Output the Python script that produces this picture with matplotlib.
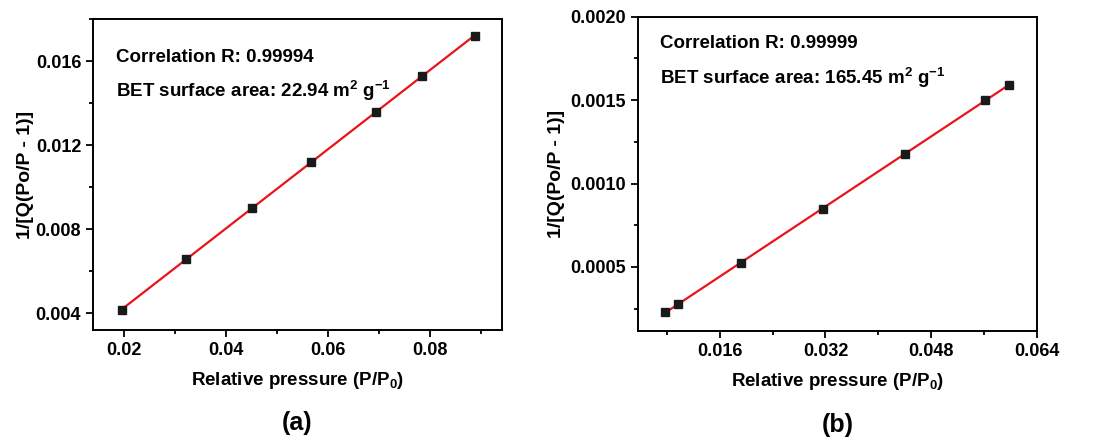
import numpy as np
import matplotlib
matplotlib.use("Agg")
import matplotlib.pyplot as plt
from matplotlib.ticker import MultipleLocator, FixedLocator

plt.rcParams['font.family'] = ['Liberation Sans', 'DejaVu Sans']
plt.rcParams['font.weight'] = 'bold'
plt.rcParams['mathtext.fontset'] = 'custom'
plt.rcParams['mathtext.rm'] = 'Liberation Sans:bold'
plt.rcParams['mathtext.bf'] = 'Liberation Sans:bold'
plt.rcParams['mathtext.default'] = 'bf'

# panel (a) data
xa = [0.0196, 0.0322, 0.0450, 0.0567, 0.0694, 0.0784, 0.0888]
ya = [0.00415, 0.00657, 0.00900, 0.01120, 0.01359, 0.01529, 0.01718]
# panel (b) data
xb = [0.0078, 0.0097, 0.0193, 0.0316, 0.0441, 0.0561, 0.0598]
yb = [0.000228, 0.000278, 0.000526, 0.000850, 0.001180, 0.001500, 0.001590]

r_values = ["0.99994", "0.99999"]
bet_values = ["22.94", "165.45"]
panel_labels = ["(a)", "(b)"]

fig = plt.figure(figsize=(10.96, 4.43), dpi=100)
ax_a = fig.add_axes([0.0849, 0.255, 0.373, 0.702])
ax_b = fig.add_axes([0.5818, 0.2535, 0.3644, 0.7088])


def draw(ax, x, y, r, bet, label, text_y, ypad):
    x = np.array(x)
    y = np.array(y)
    k, b = np.polyfit(x, y, 1)
    xx = np.array([x.min(), x.max()])
    ax.plot(xx, k * xx + b, color='#e8141a', lw=1.6, zorder=2)
    ax.plot(x, y, 's', color='#1a1a1a', ms=5.5, zorder=3)
    for s in ax.spines.values():
        s.set_linewidth(1.4)
    ax.tick_params(which='both', direction='out', top=False, right=False,
                   labelsize=13, width=1.3)
    ax.tick_params(which='major', length=5)
    ax.tick_params(which='minor', length=3)
    ax.set_xlabel(r'Relative pressure (P/P$_{0}$)', fontsize=13.5, fontweight='bold', labelpad=8)
    ax.set_ylabel('1/[Q(Po/P - 1)]', fontsize=14, fontweight='bold', labelpad=ypad)
    ax.text(0.057, text_y[0], 'Correlation R: ' + r, transform=ax.transAxes,
            fontsize=13.5, fontweight='bold', va='center')
    ax.text(0.057, text_y[1], 'BET surface area: ' + bet + r' m$^{2}$ g$^{-1}$',
            transform=ax.transAxes, fontsize=13.5, fontweight='bold', va='center')
    ax.text(0.5, -0.3, label, transform=ax.transAxes, ha='center', va='center',
            fontsize=18, fontweight='bold')


draw(ax_a, xa, ya, r_values[0], bet_values[0], panel_labels[0], (0.877, 0.77), 1)
ax_a.set_xlim(0.0139, 0.0941)
ax_a.set_ylim(0.00319, 0.018)
ax_a.set_xticks([0.02, 0.04, 0.06, 0.08])
ax_a.set_xticklabels(['0.02', '0.04', '0.06', '0.08'])
ax_a.xaxis.set_minor_locator(MultipleLocator(0.01))
ax_a.set_yticks([0.004, 0.008, 0.012, 0.016])
ax_a.set_yticklabels(['0.004', '0.008', '0.012', '0.016'])
ax_a.yaxis.set_minor_locator(MultipleLocator(0.002))

draw(ax_b, xb, yb, r_values[1], bet_values[1], panel_labels[1], (0.914, 0.806), 4)
ax_b.set_xlim(0.0036, 0.064)
ax_b.set_ylim(0.000118, 0.002)
ax_b.set_xticks([0.016, 0.032, 0.048, 0.064])
ax_b.set_xticklabels(['0.016', '0.032', '0.048', '0.064'])
ax_b.xaxis.set_minor_locator(FixedLocator([0.008, 0.024, 0.040, 0.056]))
ax_b.set_yticks([0.0005, 0.0010, 0.0015, 0.0020])
ax_b.set_yticklabels(['0.0005', '0.0010', '0.0015', '0.0020'])
ax_b.yaxis.set_minor_locator(FixedLocator([0.00025, 0.00075, 0.00125, 0.00175]))

fig.savefig('out.png', dpi=100)
